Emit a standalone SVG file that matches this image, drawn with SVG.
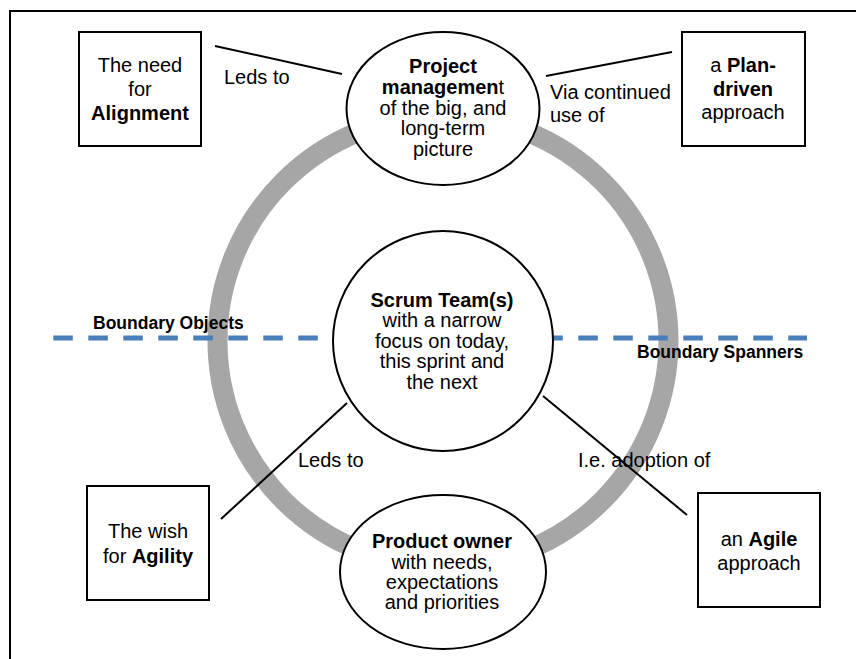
<svg xmlns="http://www.w3.org/2000/svg" width="856" height="659" viewBox="0 0 856 659">
  <style>
    text { font-family: "Liberation Sans", Arial, Helvetica, sans-serif; font-size: 20px; fill: #000; }
    .c { text-anchor: middle; }
    .b { font-weight: bold; }
    .boundary { font-size: 17.5px; font-weight: bold; }
    .frame { fill: none; stroke: #000; stroke-width: 2; }
    .shape { fill: #fff; stroke: #000; stroke-width: 2; }
    .link { stroke: #000; stroke-width: 2; fill: none; }
    .ring { fill: none; stroke: #A6A6A6; stroke-width: 20; }
    .divider { stroke: #4A7EBB; stroke-width: 5; stroke-dasharray: 19.5 15.5; }
  </style>

  <!-- page frame -->
  <path class="frame" d="M10 660 V11 H857"/>

  <!-- grey cycle ring behind the nodes -->
  <circle class="ring" cx="443" cy="341" r="225.5"/>

  <!-- boundary divider -->
  <line class="divider" x1="53.3" y1="338" x2="807" y2="338"/>
  <text class="boundary" x="93" y="329">Boundary Objects</text>
  <text class="boundary" x="637" y="358">Boundary Spanners</text>

  <!-- connectors -->
  <g id="connectors">
    <line class="link" x1="215" y1="46" x2="342" y2="74"/>
    <line class="link" x1="546" y1="76" x2="672" y2="52"/>
    <line class="link" x1="347" y1="403" x2="221" y2="519"/>
    <line class="link" x1="543" y1="396" x2="687" y2="515"/>
    <text x="224" y="84">Leds to</text>
    <text x="550" y="99">Via continued</text>
    <text x="550" y="122">use of</text>
    <text x="298" y="467">Leds to</text>
    <text x="578" y="467">I.e. adoption of</text>
  </g>

  <g id="project-management">
    <ellipse class="shape" cx="443" cy="108.5" rx="96.5" ry="76.5"/>
    <text class="c" x="443" y="73"><tspan class="b">Project</tspan></text>
    <text class="c" x="443" y="94"><tspan class="b">managemen</tspan>t</text>
    <text class="c" x="443" y="114.5">of the big, and</text>
    <text class="c" x="443" y="135">long-term</text>
    <text class="c" x="443" y="156">picture</text>
  </g>

  <g id="scrum-team">
    <circle class="shape" cx="443" cy="341" r="110"/>
    <text class="c b" x="442" y="307">Scrum Team(s)</text>
    <text class="c" x="442" y="327">with a narrow</text>
    <text class="c" x="442" y="347.5">focus on today,</text>
    <text class="c" x="442" y="368">this sprint and</text>
    <text class="c" x="442" y="388.5">the next</text>
  </g>

  <g id="product-owner">
    <ellipse class="shape" cx="443" cy="572" rx="103" ry="77"/>
    <text class="c b" x="442" y="548">Product owner</text>
    <text class="c" x="442" y="568.5">with needs,</text>
    <text class="c" x="442" y="588.5">expectations</text>
    <text class="c" x="442" y="609">and priorities</text>
  </g>

  <g id="alignment">
    <rect class="shape" x="79" y="32" width="122" height="114"/>
    <text class="c" x="140" y="72">The need</text>
    <text class="c" x="140" y="96">for</text>
    <text class="c b" x="140" y="120">Alignment</text>
  </g>

  <g id="plan-driven">
    <rect class="shape" x="682" y="32" width="123" height="114"/>
    <text class="c" x="743" y="72">a <tspan class="b">Plan-</tspan></text>
    <text class="c b" x="743" y="96">driven</text>
    <text class="c" x="743" y="119">approach</text>
  </g>

  <g id="agility">
    <rect class="shape" x="87" y="486" width="122" height="114"/>
    <text class="c" x="148" y="538">The wish</text>
    <text class="c" x="148" y="563">for <tspan class="b">Agility</tspan></text>
  </g>

  <g id="agile">
    <rect class="shape" x="698" y="493" width="122" height="114"/>
    <text class="c" x="759" y="546">an <tspan class="b">Agile</tspan></text>
    <text class="c" x="759" y="570">approach</text>
  </g>
</svg>
